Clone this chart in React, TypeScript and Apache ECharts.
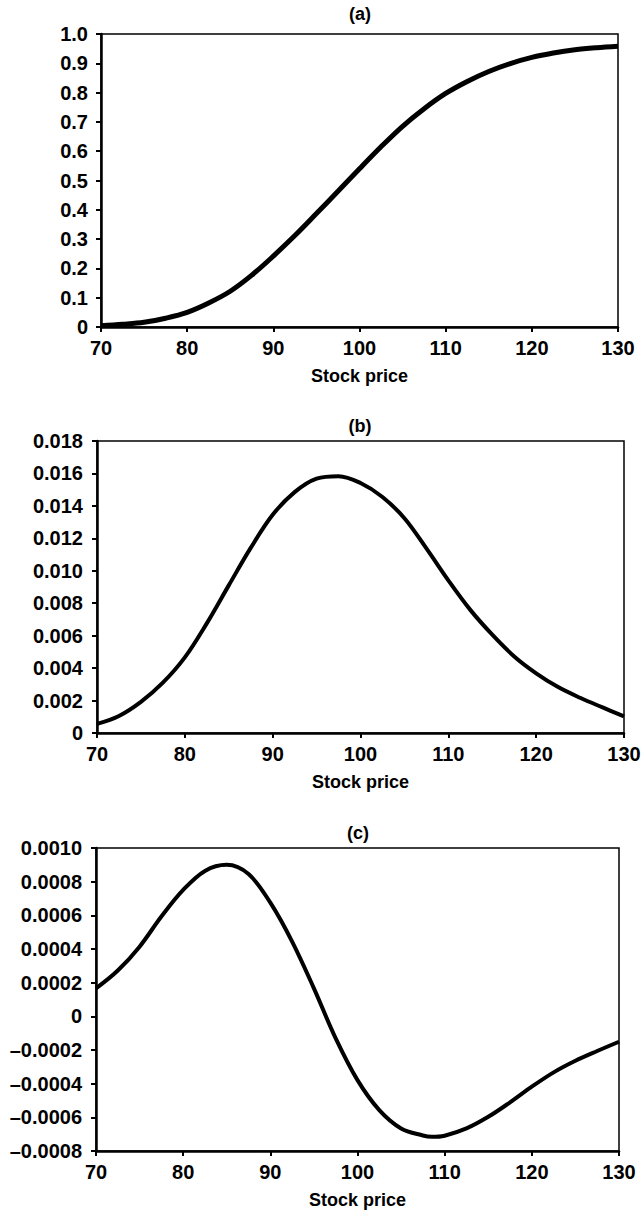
import React, { useEffect, useRef } from "react";
import * as echarts from "echarts";

// Stock prices for panels (a) and (b)
const stockPrices = [70, 72.5, 75, 77.5, 80, 82.5, 85, 87.5, 90, 92.5, 95, 97.5, 100, 102.5, 105, 107.5, 110, 112.5, 115, 117.5, 120, 122.5, 125, 127.5, 130];
// Stock prices for panel (c)
const stockPricesC = [70, 72.5, 75, 77.5, 80, 82.5, 85, 87.5, 90, 92.5, 95, 97.5, 100, 102.5, 105, 107.5, 108.5, 110, 112.5, 115, 117.5, 120, 122.5, 125, 127.5, 130];

// (a)
const seriesA = [0.004, 0.009, 0.016, 0.03, 0.05, 0.082, 0.122, 0.177, 0.242, 0.312, 0.387, 0.463, 0.54, 0.615, 0.685, 0.745, 0.797, 0.838, 0.872, 0.899, 0.92, 0.935, 0.946, 0.953, 0.958];
// (b)
const seriesB = [0.00056, 0.00105, 0.00192, 0.0031, 0.00466, 0.00676, 0.0091, 0.01141, 0.01345, 0.01485, 0.01568, 0.01583, 0.01541, 0.01455, 0.01324, 0.01138, 0.00941, 0.00759, 0.00606, 0.00472, 0.00368, 0.00283, 0.00217, 0.00159, 0.00103];
// (c)
const seriesC = [0.000166, 0.000272, 0.000414, 0.000593, 0.000751, 0.000864, 0.0009, 0.000845, 0.000675, 0.000444, 0.000166, -0.000131, -0.000379, -0.000557, -0.000666, -0.000708, -0.000716, -0.000709, -0.000666, -0.000597, -0.000511, -0.000418, -0.000333, -0.000264, -0.000206, -0.000151];

const panelTitles = ["(a)", "(b)", "(c)"];
const xAxisTitle = "Stock price";

const FONT = "Liberation Sans, Arial, Helvetica, sans-serif";

const fmtA = (v: number) => (Math.abs(v) < 1e-12 ? "0" : v.toFixed(1));
const fmtB = (v: number) => (Math.abs(v) < 1e-12 ? "0" : v.toFixed(3));
const fmtC = (v: number) =>
  Math.abs(v) < 1e-12 ? "0" : v < 0 ? "\u2013" + Math.abs(v).toFixed(4) : v.toFixed(4);

export default function App() {
  const ref = useRef<HTMLDivElement>(null);
  useEffect(() => {
    if (!ref.current) return;
    const chart = echarts.init(ref.current, undefined, { renderer: "svg" });

    const grids = [
      { left: 101, top: 34, width: 517, height: 293 },
      { left: 97, top: 441, width: 527, height: 292 },
      { left: 96, top: 848, width: 523, height: 303 },
    ];

    const labelStyle = {
      color: "#000",
      fontFamily: FONT,
      fontSize: 20,
      fontWeight: "bold",
    };

    const xAxes = grids.map((_, i) => ({
      type: "value",
      gridIndex: i,
      min: 70,
      max: 130,
      interval: 10,
      name: xAxisTitle,
      nameLocation: "middle",
      nameGap: 40,
      nameTextStyle: { ...labelStyle, fontSize: 18 },
      axisLine: { show: true, onZero: false, lineStyle: { color: "#000", width: 2.5 } },
      axisTick: { show: true, inside: false, length: 5, lineStyle: { color: "#000", width: 2 } },
      axisLabel: { ...labelStyle, margin: 11 },
      splitLine: { show: false },
    }));

    const yRanges = [
      { min: 0, max: 1, interval: 0.1, fmt: fmtA, margin: 13 },
      { min: 0, max: 0.018, interval: 0.002, fmt: fmtB, margin: 14 },
      { min: -0.0008, max: 0.001, interval: 0.0002, fmt: fmtC, margin: 14 },
    ];

    const yAxes = yRanges.map((r, i) => ({
      type: "value",
      gridIndex: i,
      min: r.min,
      max: r.max,
      interval: r.interval,
      axisLine: { show: true, onZero: false, lineStyle: { color: "#000", width: 2.5 } },
      axisTick: { show: true, inside: false, length: 5, lineStyle: { color: "#000", width: 2 } },
      axisLabel: { ...labelStyle, margin: r.margin, formatter: (v: number) => r.fmt(v) },
      splitLine: { show: false },
    }));

    const datasets = [
      { xs: stockPrices, ys: seriesA, w: 5 },
      { xs: stockPrices, ys: seriesB, w: 4 },
      { xs: stockPricesC, ys: seriesC, w: 4 },
    ];

    const series = datasets.map((d, i) => ({
      type: "line",
      xAxisIndex: i,
      yAxisIndex: i,
      data: d.xs.map((x, j) => [x, d.ys[j]]),
      smooth: 0.35,
      symbol: "none",
      lineStyle: { color: "#000", width: d.w },
      z: 3,
    }));

    const titlePos = [
      { x: 360, y: 14 },
      { x: 360, y: 426 },
      { x: 358, y: 833 },
    ];

    chart.setOption({
      animation: false,
      backgroundColor: "#fff",
      grid: grids.map((g) => ({
        ...g,
        show: true,
        borderColor: "#000",
        borderWidth: 1.5,
        backgroundColor: "transparent",
      })),
      xAxis: xAxes,
      yAxis: yAxes,
      series,
      graphic: panelTitles.map((t, i) => ({
        type: "text",
        x: titlePos[i].x,
        y: titlePos[i].y,
        style: {
          text: t,
          fill: "#000",
          font: `bold 18px ${FONT}`,
          textAlign: "center",
          textVerticalAlign: "middle",
        },
      })),
    });

    return () => chart.dispose();
  }, []);

  return (
    <div
      ref={ref}
      style={{ position: "absolute", left: 0, top: 0, width: 644, height: 1217 }}
    />
  );
}
